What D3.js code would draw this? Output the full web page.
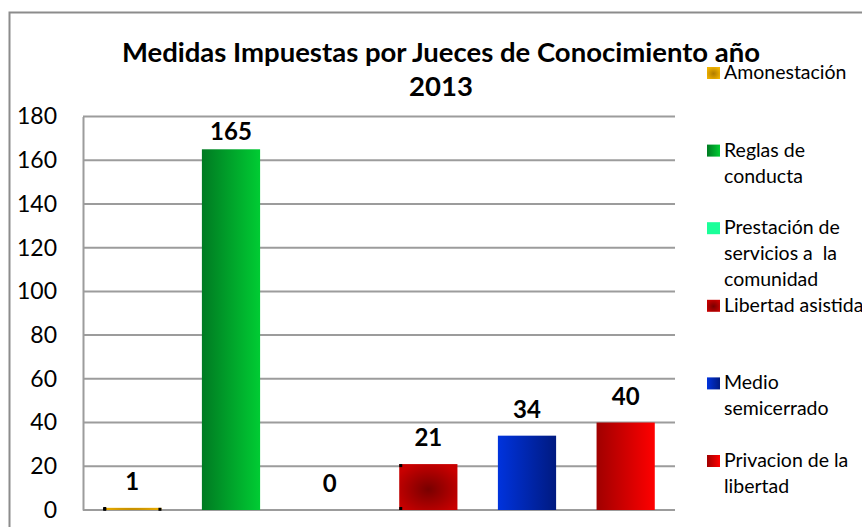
<!DOCTYPE html>
<html>
<head>
<meta charset="utf-8">
<script src="https://cdn.jsdelivr.net/npm/d3@7/dist/d3.min.js"></script>
<style>
  html, body { margin: 0; padding: 0; background: #fff; }
  svg { display: block; font-family: Lato, "Noto Sans", sans-serif; }
</style>
</head>
<body>
<svg id="chart" width="862" height="527"></svg>
<script>
// Medidas impuestas por jueces de conocimiento, 2013
const categories = [
  "Amonestación",
  "Reglas de conducta",
  "Prestación de servicios a  la comunidad",
  "Libertad asistida",
  "Medio semicerrado",
  "Privacion de la libertad"
];
const values = [1, 165, 0, 21, 34, 40];
const legendLines = [
  ["Amonestación"],
  ["Reglas de", "conducta"],
  ["Prestación de", "servicios a  la", "comunidad"],
  ["Libertad asistida"],
  ["Medio", "semicerrado"],
  ["Privacion de la", "libertad"]
];
const yTicks = [0, 20, 40, 60, 80, 100, 120, 140, 160, 180];
const titleLines = ["Medidas Impuestas por Jueces de Conocimiento año", "2013"];

const W = 862, H = 527;
const plot = { left: 83, right: 675, top: 116.5, bottom: 510 };

const svg = d3.select("#chart");
const defs = svg.append("defs");

// fills: horizontal linear gradients and radial ones
function linear(id, c0, c1) {
  const g = defs.append("linearGradient").attr("id", id)
    .attr("x1", 0).attr("y1", 0).attr("x2", 1).attr("y2", 0);
  g.append("stop").attr("offset", 0).attr("stop-color", c0);
  g.append("stop").attr("offset", 1).attr("stop-color", c1);
  return `url(#${id})`;
}
function radial(id, c0, c1) {
  const g = defs.append("radialGradient").attr("id", id)
    .attr("cx", 0.5).attr("cy", 0.55).attr("r", 0.6);
  g.append("stop").attr("offset", 0).attr("stop-color", c0);
  g.append("stop").attr("offset", 1).attr("stop-color", c1);
  return `url(#${id})`;
}
const fills = [
  radial("gAmon", "#b07c00", "#f2b400"),
  linear("gReglas", "#007a22", "#00cc33"),
  "#1aff99",
  radial("gLib", "#780000", "#c80000"),
  linear("gMedio", "#0033dd", "#001a80"),
  linear("gPriv", "#a00000", "#ff0000")
];

// chart frame
svg.append("rect").attr("width", W).attr("height", H).attr("fill", "#fff");
svg.append("path")
  .attr("d", `M9.5,${H + 5} V12.5 H${W + 5}`)
  .attr("fill", "none").attr("stroke", "#8c8c8c").attr("stroke-width", 2);

const x = d3.scaleBand()
  .domain(categories)
  .range([plot.left, plot.right])
  .paddingInner(0.41).paddingOuter(0.205);
const y = d3.scaleLinear().domain([0, 180]).range([plot.bottom, plot.top]);

// gridlines
svg.append("g").selectAll("line").data(yTicks).join("line")
  .attr("x1", plot.left).attr("x2", plot.right)
  .attr("y1", d => y(d)).attr("y2", d => y(d))
  .attr("stroke", "#9c9c9c").attr("stroke-width", 2);

// value axis
const yAxis = d3.axisLeft(y).tickValues(yTicks).tickSize(0).tickPadding(26);
const ay = svg.append("g").attr("transform", `translate(${plot.left},0)`).call(yAxis);
ay.select(".domain").attr("stroke", "#9c9c9c").attr("stroke-width", 2);
ay.selectAll("text").attr("font-size", 23).attr("fill", "#000")
  .attr("font-family", "Lato, sans-serif");

// bars
svg.append("g").selectAll("rect").data(values).join("rect")
  .attr("x", (d, i) => x(categories[i]))
  .attr("y", d => y(d))
  .attr("width", x.bandwidth())
  .attr("height", d => y(0) - y(d))
  .attr("fill", (d, i) => fills[i]);

// selection handles on the small bars
const handles = [];
[0, 3].forEach(i => {
  const x0 = x(categories[i]), y0 = y(values[i]);
  handles.push([x0, y0], [x0, y(0) - 3]);
  if (i === 0) handles.push([x0 + x.bandwidth() - 3, y0]);
});
svg.append("g").selectAll("rect").data(handles).join("rect")
  .attr("x", d => d[0]).attr("y", d => d[1])
  .attr("width", 3).attr("height", 3).attr("fill", "#000");

// value labels
svg.append("g").selectAll("text").data(values).join("text")
  .attr("x", (d, i) => x(categories[i]) + x.bandwidth() / 2)
  .attr("y", d => Math.max(y(d) - 18, plot.top + 23))
  .attr("text-anchor", "middle")
  .attr("font-size", 24).attr("font-weight", 700).attr("fill", "#000")
  .text(d => d);

// title
svg.append("g").selectAll("text").data(titleLines).join("text")
  .attr("x", 441).attr("y", (d, i) => 62 + i * 34)
  .attr("text-anchor", "middle")
  .attr("font-size", 27.5).attr("font-weight", 700).attr("fill", "#000")
  .text(d => d);

// legend
const lg = svg.append("g").selectAll("g").data(legendLines).join("g")
  .attr("transform", (d, i) => `translate(707,${67 + i * 77.6})`);
lg.append("rect").attr("width", 13).attr("height", 12)
  .attr("fill", (d, i) => fills[i]);
lg.append("text")
  .attr("font-size", 19.5).attr("fill", "#000")
  .style("white-space", "pre")
  .selectAll("tspan").data(d => d).join("tspan")
  .attr("x", 17).attr("y", (d, i) => 12 + i * 26)
  .text(d => d);
</script>
</body>
</html>
